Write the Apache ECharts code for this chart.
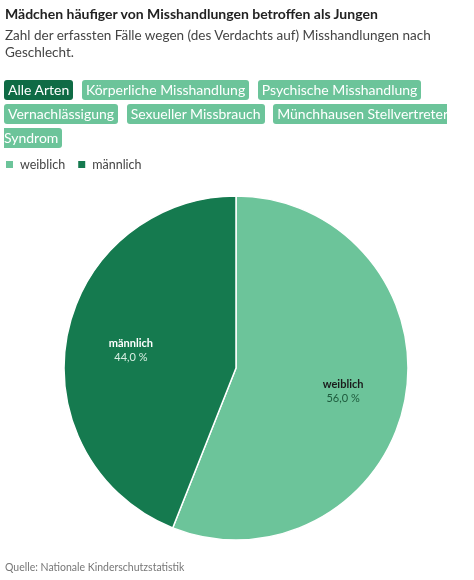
<!DOCTYPE html>
<html>
<head>
<meta charset="UTF-8">
<title>Misshandlungen nach Geschlecht</title>
<script src="https://cdn.jsdelivr.net/npm/echarts@6/dist/echarts.min.js"></script>
<style>
  html, body { margin: 0; padding: 0; background: #fff; }
  body { width: 474px; height: 580px; position: relative; overflow: hidden; font-family: Lato, "Noto Sans", sans-serif; }
  #chart { position: absolute; left: 0; top: 0; width: 474px; height: 580px; }
  .head { position: absolute; left: 5px; top: 4px; width: 460px; z-index: 2; }
  .head h1 { margin: 0; font-size: 14px; font-weight: bold; color: #222; line-height: 20px; }
  .head p { margin: 3px 0 0 0; font-size: 13.5px; color: #444; line-height: 17px; }
  .clip { position: absolute; left: 4px; top: 78px; width: 443px; height: 74px; overflow: hidden; z-index: 2; }
  .tabs { width: 460px; line-height: 24px; font-size: 14px; }
  .tabs span { background: #6cc49a; color: #fff; padding: 1px 4px 2px 4px; border-radius: 3px; margin-right: 5px; -webkit-box-decoration-break: slice; box-decoration-break: slice; }
  .tabs span.on { background: #0f6b45; }
</style>
</head>
<body>
<div class="head">
  <h1>Mädchen häufiger von Misshandlungen betroffen als Jungen</h1>
  <p>Zahl der erfassten Fälle wegen (des Verdachts auf) Misshandlungen nach Geschlecht.</p>
</div>
<div class="clip"><div class="tabs"><span class="on">Alle Arten</span> <span>Körperliche Misshandlung</span> <span>Psychische Misshandlung</span> <span>Vernachlässigung</span> <span>Sexueller Missbrauch</span> <span>Münchhausen&nbsp;Stellvertreter-Syndrom</span></div></div>
<div id="chart"></div>
<script>
var genders = ['weiblich', 'männlich'];
var shares = [56.0, 44.0];
var colors = ['#6cc49a', '#157a4f'];

var fmt = function(v) {
  return v.toFixed(1).replace('.', ',') + ' %';
};

var pieData = genders.map(function(g, i) {
  return { name: g, value: shares[i], itemStyle: { color: colors[i] } };
});

var labelData = genders.map(function(g, i) {
  return {
    name: g,
    value: shares[i],
    itemStyle: { color: 'rgba(0,0,0,0)' },
    label: {
      rich: i == 0 ? {
        n: { fontWeight: 'bold', fontSize: 11, color: '#1b1b1b', lineHeight: 14, fontFamily: 'Lato' },
        v: { fontSize: 11, color: '#1d5a3c', lineHeight: 14, fontFamily: 'Lato' }
      } : {
        n: { fontWeight: 'bold', fontSize: 11, color: '#ffffff', lineHeight: 14, fontFamily: 'Lato' },
        v: { fontSize: 11, color: '#d9efe3', lineHeight: 14, fontFamily: 'Lato' }
      }
    }
  };
});

var chart = echarts.init(document.getElementById('chart'));
chart.setOption({
  animation: false,
  legend: {
    data: genders,
    left: 4,
    top: 158,
    padding: 0,
    icon: 'rect',
    itemWidth: 9,
    itemHeight: 9,
    itemGap: 11,
    textStyle: { fontSize: 12.5, color: '#444', fontFamily: 'Lato', padding: [0, 0, 0, 1] }
  },
  graphic: [{
    type: 'text',
    left: 5,
    top: 562,
    style: { text: 'Quelle: Nationale Kinderschutzstatistik', fontSize: 10.5, fill: '#777', fontFamily: 'Lato' }
  }],
  series: [{
    type: 'pie',
    center: [236, 368],
    radius: 172,
    startAngle: 90,
    clockwise: true,
    label: { show: false },
    labelLine: { show: false },
    itemStyle: { borderColor: '#fff', borderWidth: 1.5 },
    data: pieData
  }, {
    type: 'pie',
    center: [236, 368],
    radius: 210,
    startAngle: 90,
    clockwise: true,
    silent: true,
    z: 3,
    legendHoverLink: false,
    label: {
      show: true,
      position: 'inside',
      offset: [1, 3],
      formatter: function(p) { return '{n|' + p.name + '}\n{v|' + fmt(p.value) + '}'; }
    },
    labelLine: { show: false },
    data: labelData
  }]
});
</script>
</body>
</html>
